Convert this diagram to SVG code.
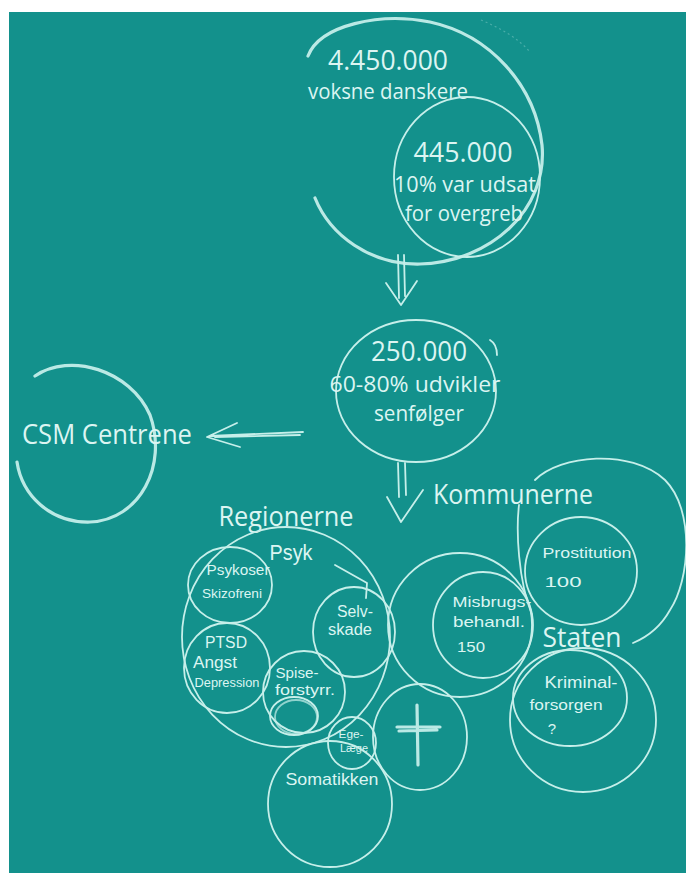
<svg xmlns="http://www.w3.org/2000/svg" width="686" height="873" viewBox="0 0 686 873">
<style>
.c{fill:none;stroke:#c6efea;stroke-width:1.8;stroke-linecap:round;stroke-linejoin:round}
.k{fill:none;stroke:#cdf3ee;stroke-width:3.2;stroke-linecap:round;opacity:.9}
.f{fill:none;stroke:#c6efea;stroke-width:1.2;opacity:.3;stroke-dasharray:2 3}
.t{font-family:"Open Sans","Liberation Sans",sans-serif;fill:#dcf5f2;text-anchor:middle}
.h{font-family:"Liberation Sans","DejaVu Sans",sans-serif;fill:#dcf5f2;text-anchor:middle}
</style>
<rect x="0" y="0" width="686" height="873" fill="#ffffff"/>
<rect x="9" y="12" width="677" height="861" fill="#13918c"/>

<g id="voksne">
<path class="k" d="M308 56 C320 25 380 12 430 22 C490 35 535 85 542 145 C548 210 490 262 420 264 C370 265 330 235 315 198"/>
<path class="f" d="M481 20 C500 28 518 38 530 52"/>
<text class="t" x="388" y="70" font-size="27" textLength="120" lengthAdjust="spacingAndGlyphs">4.450.000</text>
<text class="t" x="388" y="99" font-size="21" textLength="160" lengthAdjust="spacingAndGlyphs">voksne danskere</text>
</g>
<g id="udsat">
<ellipse class="c" cx="467" cy="177" rx="73" ry="80"/>
<text class="t" x="463" y="162" font-size="27" textLength="99" lengthAdjust="spacingAndGlyphs">445.000</text>
<text class="t" x="465" y="192" font-size="21" textLength="142" lengthAdjust="spacingAndGlyphs">10% var udsat</text>
<text class="t" x="464" y="221" font-size="21" textLength="118" lengthAdjust="spacingAndGlyphs">for overgreb</text>
</g>
<g id="senfolger">
<ellipse class="c" cx="416" cy="391" rx="80" ry="71"/>
<path class="c" d="M490 340 C495 343 497 348 497 355"/>
<text class="t" x="419" y="361" font-size="27" textLength="96" lengthAdjust="spacingAndGlyphs">250.000</text>
<text class="t" x="415" y="392" font-size="21" textLength="171" lengthAdjust="spacingAndGlyphs">60-80% udvikler</text>
<text class="t" x="419" y="421" font-size="21" textLength="90" lengthAdjust="spacingAndGlyphs">senfølger</text>
</g>
<g id="csm">
<path class="k" d="M35 376 C70 352 130 370 150 415 C168 465 140 520 90 522 C50 523 22 495 17 462" stroke-width="2.4"/>
<text class="t" x="107" y="444" font-size="27" textLength="170" lengthAdjust="spacingAndGlyphs">CSM Centrene</text>
</g>

<g id="connectors">
<path class="c" d="M398 255 L399 298 M404 255 L405 296 M386 283 L401 305 L417 281"/>
<path class="c" d="M303 432 L210 436 M300 435 L215 437 M237 423 L207 437 L240 447"/>
<path class="c" d="M398 463 L399 497 M405 463 L406 495 M387 497 L401 522 L423 490"/>
</g>

<g id="labels">
<text class="t" x="513" y="504" font-size="27" textLength="160" lengthAdjust="spacingAndGlyphs">Kommunerne</text>
<text class="t" x="286" y="526" font-size="27" textLength="135" lengthAdjust="spacingAndGlyphs">Regionerne</text>
<text class="t" x="582" y="647" font-size="27" textLength="79" lengthAdjust="spacingAndGlyphs">Staten</text>
</g>

<g id="psyk">
<ellipse class="c" cx="286" cy="637" rx="104" ry="110"/>
<path class="c" d="M335 565 L367 583 L366 598"/>
<text class="h" x="291" y="560" font-size="22" textLength="43" lengthAdjust="spacingAndGlyphs">Psyk</text>
</g>
<g id="psykoser">
<ellipse class="c" cx="230" cy="585" rx="42" ry="38"/>
<text class="h" x="238" y="575" font-size="14" textLength="63" lengthAdjust="spacingAndGlyphs">Psykoser</text>
<text class="h" x="232" y="598" font-size="13" textLength="60" lengthAdjust="spacingAndGlyphs">Skizofreni</text>
</g>
<g id="ptsd">
<ellipse class="c" cx="227" cy="668" rx="43" ry="45"/>
<text class="h" x="226" y="648" font-size="16" textLength="42" lengthAdjust="spacingAndGlyphs">PTSD</text>
<text class="h" x="215" y="668" font-size="16" textLength="44" lengthAdjust="spacingAndGlyphs">Angst</text>
<text class="h" x="227" y="687" font-size="12" textLength="65" lengthAdjust="spacingAndGlyphs">Depression</text>
</g>
<g id="selvskade">
<ellipse class="c" cx="354" cy="632" rx="41" ry="45"/>
<text class="h" x="355" y="617" font-size="16" textLength="36" lengthAdjust="spacingAndGlyphs">Selv-</text>
<text class="h" x="350" y="635" font-size="16" textLength="44" lengthAdjust="spacingAndGlyphs">skade</text>
</g>
<g id="spise">
<ellipse class="c" cx="304" cy="692" rx="41" ry="41"/>
<ellipse class="c" cx="294" cy="716" rx="24" ry="19"/>
<ellipse class="c" cx="296" cy="717" rx="21" ry="17" opacity=".7"/>
<text class="h" x="297" y="678" font-size="15" textLength="43" lengthAdjust="spacingAndGlyphs">Spise-</text>
<text class="h" x="305" y="695" font-size="15" textLength="60" lengthAdjust="spacingAndGlyphs">forstyrr.</text>
</g>
<g id="egenlaege">
<ellipse class="c" cx="352" cy="743" rx="24" ry="26"/>
<text class="h" x="351" y="738" font-size="11" textLength="25" lengthAdjust="spacingAndGlyphs">Ege-</text>
<text class="h" x="354" y="752" font-size="11" textLength="28" lengthAdjust="spacingAndGlyphs">Læge</text>
</g>
<g id="somatikken">
<ellipse class="c" cx="330" cy="804" rx="62" ry="63"/>
<text class="h" x="332" y="785" font-size="17" textLength="93" lengthAdjust="spacingAndGlyphs">Somatikken</text>
</g>
<g id="kors">
<ellipse class="c" cx="420" cy="737" rx="47" ry="53"/>
<path class="k" d="M417 705 L418 765 M397 727 L440 727 M399 731 L437 730" stroke-width="2.6"/>
</g>
<g id="kommunerne">
<ellipse class="c" cx="460" cy="625" rx="72" ry="72"/>
</g>
<g id="misbrug">
<ellipse class="c" cx="483" cy="625" rx="50" ry="53"/>
<text class="h" x="492" y="607" font-size="15" textLength="79" lengthAdjust="spacingAndGlyphs">Misbrugs-</text>
<text class="h" x="489" y="627" font-size="15" textLength="72" lengthAdjust="spacingAndGlyphs">behandl.</text>
<text class="h" x="471" y="652" font-size="15" textLength="28" lengthAdjust="spacingAndGlyphs">150</text>
</g>
<g id="staten">
<path class="c" d="M535 480 C560 455 630 448 665 480 C695 510 690 580 670 610 C660 628 645 638 633 643"/>
<path class="c" d="M519 505 C516 530 518 580 532 615"/>
</g>
<g id="prostitution">
<ellipse class="c" cx="581" cy="571" rx="56" ry="54"/>
<text class="h" x="587" y="558" font-size="15" textLength="89" lengthAdjust="spacingAndGlyphs">Prostitution</text>
<text class="h" x="563" y="587" font-size="14" textLength="37" lengthAdjust="spacingAndGlyphs">100</text>
</g>
<g id="kriminalforsorgen">
<ellipse class="c" cx="583" cy="720" rx="73" ry="72"/>
<ellipse class="c" cx="570" cy="698" rx="57" ry="48"/>
<text class="h" x="581" y="688" font-size="16" textLength="73" lengthAdjust="spacingAndGlyphs">Kriminal-</text>
<text class="h" x="566" y="710" font-size="15" textLength="73" lengthAdjust="spacingAndGlyphs">forsorgen</text>
<text class="h" x="552" y="734" font-size="15">?</text>
</g>
</svg>
